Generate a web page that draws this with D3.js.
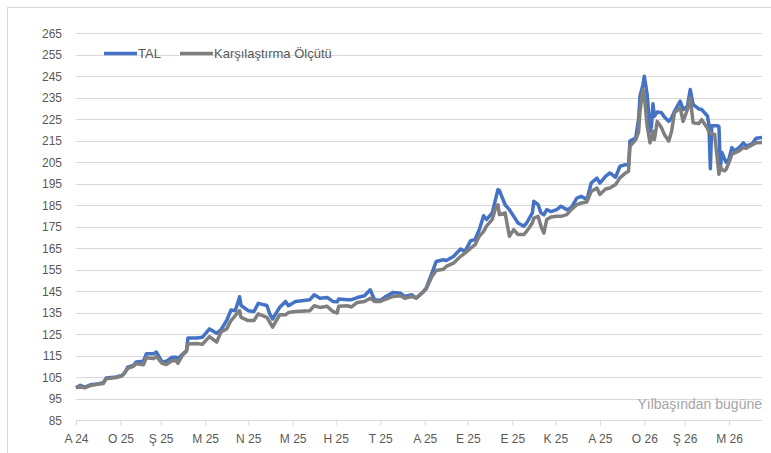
<!DOCTYPE html>
<html>
<head>
<meta charset="utf-8">
<script src="https://cdn.jsdelivr.net/npm/d3@7"></script>
<style>
  body { margin: 0; background: #fff; }
  text { font-family: "Liberation Sans", Arial, sans-serif; }
</style>
</head>
<body>
<div id="chart"></div>
<script>
let dates = [
  "2024-12-31","2025-01-03","2025-01-06","2025-01-10","2025-01-15","2025-01-19","2025-01-21","2025-01-28",
  "2025-02-01","2025-02-03","2025-02-05","2025-02-09","2025-02-11","2025-02-16","2025-02-18","2025-02-23",
  "2025-02-25","2025-03-01","2025-03-04","2025-03-08","2025-03-11","2025-03-12","2025-03-15","2025-03-18",
  "2025-03-19","2025-03-25","2025-03-29","2025-04-03","2025-04-08","2025-04-11","2025-04-15","2025-04-18",
  "2025-04-21","2025-04-24","2025-04-25","2025-04-30","2025-05-04","2025-05-07","2025-05-13","2025-05-15",
  "2025-05-17","2025-05-22","2025-05-26","2025-05-28","2025-06-02","2025-06-12","2025-06-15","2025-06-19",
  "2025-06-24","2025-06-28","2025-07-01","2025-07-02","2025-07-08","2025-07-11","2025-07-15","2025-07-20",
  "2025-07-24","2025-07-27","2025-07-31","2025-08-04","2025-08-09","2025-08-14","2025-08-17","2025-08-22",
  "2025-08-25","2025-08-30","2025-09-01","2025-09-05","2025-09-08","2025-09-13","2025-09-15","2025-09-20",
  "2025-09-25","2025-09-28","2025-10-02","2025-10-05","2025-10-08","2025-10-11","2025-10-13","2025-10-17",
  "2025-10-19","2025-10-21","2025-10-22","2025-10-26","2025-10-29","2025-11-01","2025-11-04","2025-11-08",
  "2025-11-10","2025-11-14","2025-11-15","2025-11-18","2025-11-20","2025-11-22","2025-11-24","2025-11-27",
  "2025-12-01","2025-12-04","2025-12-08","2025-12-11","2025-12-15","2025-12-18","2025-12-22","2025-12-25",
  "2025-12-29","2025-12-31","2026-01-04","2026-01-07","2026-01-11","2026-01-14","2026-01-18","2026-01-20",
  "2026-01-21","2026-01-25","2026-01-27","2026-01-28","2026-01-30","2026-01-31","2026-02-02","2026-02-04",
  "2026-02-05","2026-02-06","2026-02-07","2026-02-09","2026-02-12","2026-02-14","2026-02-17","2026-02-19",
  "2026-02-21","2026-02-25","2026-02-27","2026-03-02","2026-03-04","2026-03-06","2026-03-10","2026-03-12",
  "2026-03-16","2026-03-17","2026-03-18","2026-03-19","2026-03-21","2026-03-23","2026-03-24","2026-03-25",
  "2026-03-26","2026-03-28","2026-03-29","2026-03-31","2026-04-02","2026-04-04","2026-04-07","2026-04-10",
  "2026-04-12","2026-04-16","2026-04-19","2026-04-23"
];

let tal = [
  100, 101.2, 100.2, 101.4, 101.8, 102.3, 104.5, 105,
  105.7, 107, 109.6, 110.4, 112, 112.4, 115.8, 115.8,
  116.6, 112, 112.4, 114.2, 114.2, 113.5, 115.5, 117.3,
  123.2, 123.2, 123.5, 127.4, 125.4, 127, 131.3, 136.2,
  135.9, 142.4, 138.3, 135.9, 135.5, 139.3, 138.3, 134.4,
  132, 137.5, 140.2, 138.2, 140.2, 141, 143.3, 141.7,
  142, 140.2, 140, 141.3, 141, 141, 142, 142.8,
  145.6, 141, 140.7, 142.5, 144.4, 144, 142.5, 143.3,
  141.7, 144.8, 146.4, 153.4, 158.8, 159.6, 159.2, 161.1,
  164.6, 163.4, 168.5, 168.9, 173.6, 180.1, 178.3, 181.4,
  186.8, 192.2, 191.9, 185.2, 182.9, 179.8, 176.7, 175.2,
  176.7, 181.4, 186.8, 185.2, 181.4, 180.5, 182.9, 182,
  182.9, 184.5, 182.9, 183.7, 188.3, 189.1, 187.6, 195.3,
  197.6, 195.3, 198.4, 200, 198, 203.1, 203.9, 203.5,
  214.8, 216.3, 225, 235.7, 241, 245, 236.5, 219.4,
  221.7, 232.2, 226.4, 228.4, 228, 226, 224, 225.6,
  228.7, 233.4, 229.5, 231, 238.8, 231.8, 229.8, 229.5,
  226.5, 222.5, 202, 222, 222, 222, 221.5, 202.5,
  209.5, 206.4, 205, 206.5, 211.8, 210.3, 211.8, 214,
  212.6, 213.5, 216.2, 216.5
];

let bench = [
  100, 100.8, 100, 101, 101.6, 102, 104.2, 104.8,
  105.5, 107, 109, 110, 111.2, 110.7, 114, 113.6,
  114.6, 111.4, 110.8, 112.7, 112.5, 111.4, 115, 117,
  120.4, 120.6, 120.2, 123.8, 121.2, 126, 127.4, 131.3,
  133.6, 135.9, 132.8, 131.3, 131.3, 134.4, 132.8, 130.5,
  128.2, 134, 134, 135, 135.5, 135.9, 138.2, 137.4,
  137.9, 135.5, 134.8, 137.9, 138.2, 137.6, 139.7, 140.2,
  141.7, 140.2, 140.2, 141.3, 142.5, 142.8, 141.7, 142.5,
  141.7, 144.5, 146, 151.8, 154.6, 155.2, 156.5, 158,
  161.2, 162.7, 165, 166.5, 170.5, 172.8, 175.2, 178.3,
  182.9, 185.2, 180.6, 181.4, 170.5, 173.6, 171.3, 171.3,
  172.8, 176.7, 179, 179.8, 175.2, 172, 178.3, 179.5,
  179.8, 179.8, 180.6, 182.9, 185.2, 186, 186.5, 191.4,
  193, 190, 192.5, 193, 194.6, 197.7, 200, 200.8,
  212.4, 215.5, 219, 228.7, 238.8, 236, 221.7, 214,
  216.3, 219.4, 215.5, 224, 221, 217.9, 214.8, 219.4,
  228, 230.3, 224, 229.5, 235, 223.3, 223, 224.8,
  220.8, 219, 219, 218, 218, 205.6, 199.4, 203,
  201.5, 201, 201.7, 204.8, 208.7, 209.3, 210.3, 211.8,
  211.5, 213, 214.1, 214.2
];

let seriesNames = ["TAL", "Karşılaştırma Ölçütü"];
let seriesColors = ["#4472C4", "#7F7F7F"];
let monthLetters = ["O", "Ş", "M", "N", "M", "H", "T", "A", "E", "E", "K", "A"];
let yTicks = d3.range(85, 266, 10);
let note = "Yılbaşından bugüne";

let width = 771, height = 453;
let margin = { top: 33.3, right: 9, bottom: 33, left: 76 };

let svg = d3.select("#chart")
  .append("svg")
  .attr("width", width)
  .attr("height", height);

// chart frame
svg.append("rect")
  .attr("x", 7.5).attr("y", 7.5)
  .attr("width", width).attr("height", height)
  .attr("fill", "none")
  .attr("stroke", "#d9d9d9");

let parse = d3.timeParse("%Y-%m-%d");
let points = dates.map((d, i) => ({ date: parse(d), tal: tal[i], bench: bench[i] }));

let x = d3.scaleTime()
  .domain([parse("2024-12-31"), parse("2026-04-23")])
  .range([margin.left, width - margin.right]);

let y = d3.scaleLinear()
  .domain([85, 265])
  .range([height - margin.bottom, margin.top]);

// gridlines
svg.append("g")
  .selectAll("line")
  .data(yTicks)
  .enter()
  .append("line")
  .attr("x1", margin.left)
  .attr("x2", width - margin.right)
  .attr("y1", d => Math.round(y(d)) + 0.5)
  .attr("y2", d => Math.round(y(d)) + 0.5)
  .attr("stroke", "#d9d9d9")
  .attr("stroke-width", 1);

// y labels
svg.append("g")
  .selectAll("text")
  .data(yTicks)
  .enter()
  .append("text")
  .attr("x", 62)
  .attr("y", d => y(d) + 4.5)
  .attr("text-anchor", "end")
  .attr("font-size", 12)
  .attr("fill", "#595959")
  .text(d => d);

// x axis: ticks at month ends
let monthEnds = d3.timeMonth.range(parse("2025-01-01"), parse("2026-04-02"))
  .map(d => d3.timeDay.offset(d, -1));

let xAxis = d3.axisBottom(x)
  .tickValues(monthEnds)
  .tickSize(5)
  .tickPadding(9)
  .tickFormat(d => monthLetters[d.getMonth()] + " " + d3.timeFormat("%y")(d));

let gx = svg.append("g")
  .attr("transform", `translate(0,${Math.round(y(85)) + 0.5})`)
  .call(xAxis);
gx.select(".domain").remove();
gx.selectAll(".tick line").attr("stroke", "#d9d9d9");
gx.selectAll(".tick text")
  .attr("font-size", 12)
  .attr("font-family", "Liberation Sans, Arial, sans-serif")
  .attr("fill", "#595959");

// lines
let keys = ["tal", "bench"];
keys.forEach((k, i) => {
  let line = d3.line()
    .x(d => x(d.date))
    .y(d => y(d[k]));
  svg.append("path")
    .datum(points)
    .attr("d", line)
    .attr("fill", "none")
    .attr("stroke", seriesColors[i])
    .attr("stroke-width", 3.5)
    .attr("stroke-linejoin", "round");
});

// legend
let legendX = [104, 180];
let legend = svg.append("g");
seriesNames.forEach((name, i) => {
  legend.append("line")
    .attr("x1", legendX[i]).attr("x2", legendX[i] + 33)
    .attr("y1", 53.5).attr("y2", 53.5)
    .attr("stroke", seriesColors[i])
    .attr("stroke-width", 3.5);
  legend.append("text")
    .attr("x", legendX[i] + 34)
    .attr("y", 58)
    .attr("font-size", 13)
    .attr("fill", "#595959")
    .text(name);
});

// note
svg.append("text")
  .attr("x", 762)
  .attr("y", 409)
  .attr("text-anchor", "end")
  .attr("font-size", 14)
  .attr("fill", "#a6a6a6")
  .text(note);
</script>
</body>
</html>
